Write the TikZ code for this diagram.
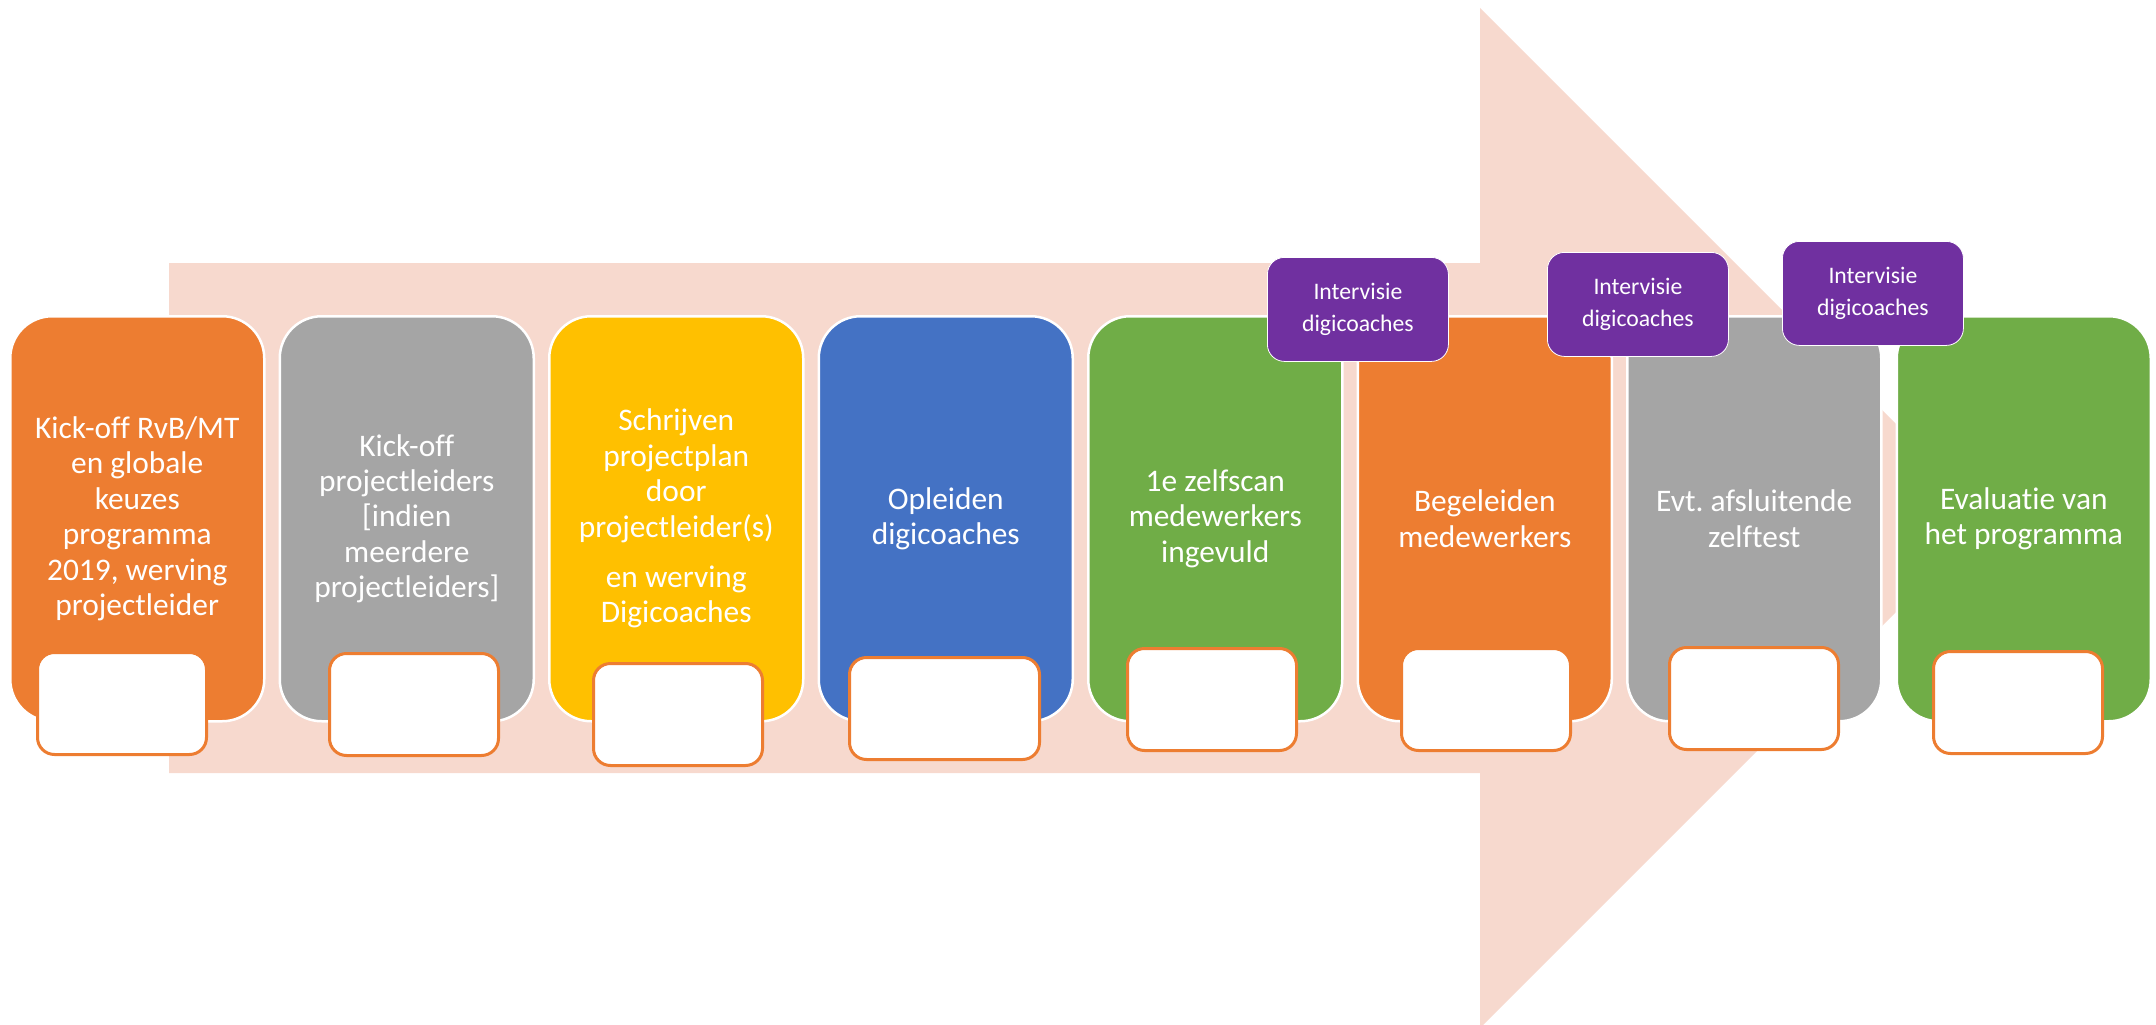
\documentclass[tikz,border=0pt]{standalone}
\usepackage{fontspec}
\setmainfont[Ligatures={NoCommon}]{Carlito}
\frenchspacing
\definecolor{accOrange}{HTML}{ED7D31}
\definecolor{accGray}{HTML}{A5A5A5}
\definecolor{accYellow}{HTML}{FFC000}
\definecolor{accBlue}{HTML}{4472C4}
\definecolor{accGreen}{HTML}{70AD47}
\definecolor{accPurple}{HTML}{7030A0}
\definecolor{arrowfill}{HTML}{F7D9CE}
\begin{document}
\begin{tikzpicture}[x=1pt,y=-1pt,
  phase/.style={draw=white, line width=2.5pt, rounded corners=42pt,
    minimum width=254pt, minimum height=405pt, inner sep=0pt,
    anchor=north west, text=white, align=center,
    font=\fontsize{31.4}{35.4}\selectfont},
  slot/.style={fill=white, draw=accOrange, line width=3pt,
    rounded corners=17pt, inner sep=0pt, anchor=north west,
    minimum width=169pt, minimum height=102pt},
  meet/.style={fill=accPurple, draw=white, line width=0.8pt,
    rounded corners=17pt, inner sep=0pt, anchor=north west,
    minimum width=181pt, minimum height=104pt, text=white, align=center,
    font=\fontsize{23.7}{31.7}\selectfont}]
\useasboundingbox (0,0) rectangle (2156,1025);

% background block arrow
\fill[arrowfill] (169,263) -- (1480,263) -- (1480,8) -- (1990,518)
  -- (1480,1028) -- (1480,773) -- (169,773) -- cycle;

% phases
\node[phase, fill=accOrange] (p1) at (9,315)
  {Kick-off RvB/MT\\en globale\\keuzes\\programma\\2019, werving\\projectleider};
\node[phase, fill=accGray] (p2) at (278.5,315)
  {Kick-off\\projectleiders\\{[}indien\\meerdere\\projectleiders{]}};
\node[phase, fill=accYellow] (p3) at (548,315)
  {Schrijven\\projectplan\\door\\projectleider(s)\\[15pt]en werving\\Digicoaches};
\node[phase, fill=accBlue] (p4) at (817.5,315)
  {Opleiden\\digicoaches};
\node[phase, fill=accGreen] (p5) at (1087,315)
  {1e zelfscan\\medewerkers\\ingevuld};
\node[phase, fill=accOrange] (p6) at (1356.5,315)
  {Begeleiden\\medewerkers};
\node[phase, fill=accGray] (p7) at (1626,315)
  {Evt. afsluitende\\zelftest};
\node[phase, fill=accGreen] (p8) at (1895.5,315)
  {Evaluatie van\\het programma};

% empty slots under each phase
\node[slot] (s1) at (36,651) {};
\node[slot] (s2) at (328,652) {};
\node[slot] (s3) at (592,662) {};
\node[slot, minimum width=190pt] (s4) at (848,656) {};
\node[slot] (s5) at (1126,647) {};
\node[slot] (s6) at (1400,647) {};
\node[slot] (s7) at (1668,646) {};
\node[slot] (s8) at (1932,650) {};

% peer review moments
\node[meet] (m1) at (1267,257) {Intervisie\\digicoaches};
\node[meet] (m2) at (1547,252) {Intervisie\\digicoaches};
\node[meet] (m3) at (1782,241) {Intervisie\\digicoaches};
\end{tikzpicture}
\end{document}
